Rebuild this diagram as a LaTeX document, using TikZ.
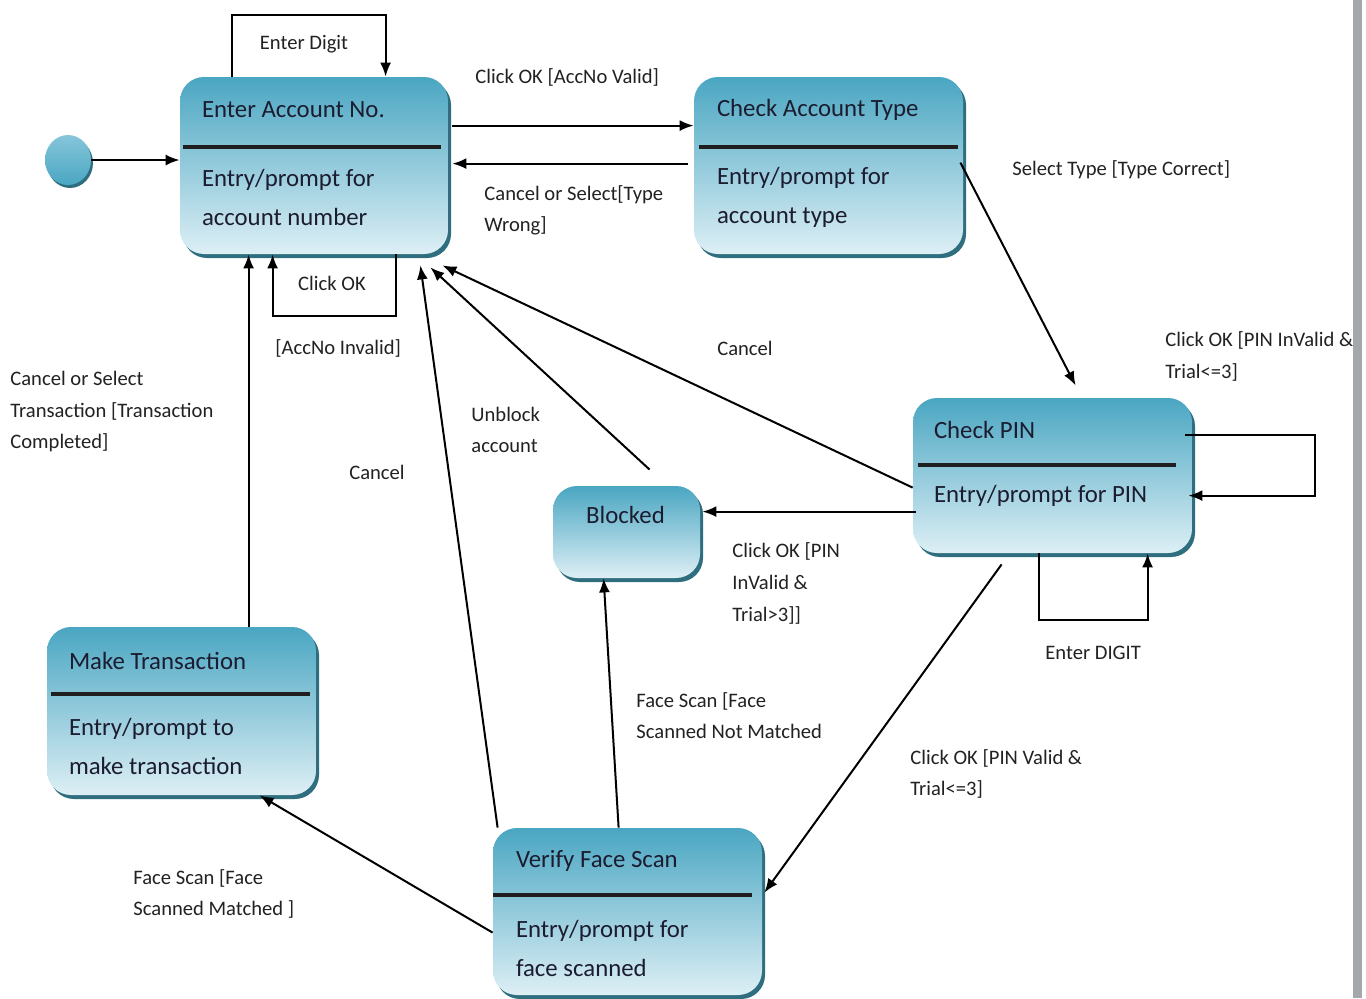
\documentclass[tikz,border=0pt]{standalone}
\usepackage{fontspec}
\setmainfont{Carlito}
\usetikzlibrary{arrows.meta,shapes.geometric,shadows,calc}
\definecolor{boxtop}{HTML}{4AA6C2}
\definecolor{boxbot}{HTML}{DDEFF5}
\definecolor{boxshadow}{HTML}{2F6E7E}
\definecolor{initlight}{HTML}{86C6DA}
\definecolor{boxtext}{HTML}{1C1C30}
\definecolor{labeltext}{HTML}{222222}
\definecolor{barcol}{HTML}{A4A7AB}
\begin{document}
\begin{tikzpicture}[x=0.5pt,y=-0.5pt,
  statebox/.style={rectangle, rounded corners=12pt, top color=boxtop, bottom color=boxbot,
    draw=none, inner sep=0pt,
    drop shadow={shadow xshift=1.5pt,shadow yshift=-2pt,fill=boxshadow,opacity=1}},
  initstate/.style={ellipse, inner sep=0pt, top color=initlight, bottom color=boxtop,
    draw=none, drop shadow={shadow xshift=1pt,shadow yshift=-1.5pt,fill=boxshadow,opacity=1}},
  boxtitle/.style={anchor=west, inner sep=0pt, font=\fontsize{12.4}{19.5}\selectfont, text=boxtext},
  boxbody/.style={anchor=west, align=left, inner sep=0pt, font=\fontsize{12.4}{19.5}\selectfont, text=boxtext},
  lbl/.style={inner sep=0pt, align=left, font=\fontsize{10.3}{15.8}\selectfont, text=labeltext},
  lblw/.style={lbl, anchor=west},
  conn/.style={line width=1pt, draw=black, -{Latex[length=7pt,width=5.5pt]}},
  divider/.style={line width=2pt, draw=black!88}
]
\useasboundingbox (0,0) rectangle (1366,998);
\fill[white] (0,0) rectangle (1366,998);

% states
\node[initstate, minimum width=23pt, minimum height=25pt] (init) at (68,160) {};

\node[statebox, minimum width=134pt, minimum height=88.5pt] (acc) at (314,165.5) {};
\node[boxtitle] (accT) at ($(acc.north west)+(22,33)$) {Enter Account No.};
\draw[divider] ($(acc.north west)+(3,70)$) -- ($(acc.north east)+(-7,70)$);
\node[boxbody] (accB) at ($(acc.north west)+(22,120.5)$) {Entry/prompt for\\account number};

\node[statebox, minimum width=134.5pt, minimum height=88.5pt] (typ) at (828.5,165.5) {};
\node[boxtitle] (typT) at ($(typ.north west)+(23,33)$) {Check Account Type};
\draw[divider] ($(typ.north west)+(5,70)$) -- ($(typ.north east)+(-5,70)$);
\node[boxbody] (typB) at ($(typ.north west)+(23,120.5)$) {Entry/prompt for\\account type};

\node[statebox, minimum width=139.5pt, minimum height=77.5pt] (pin) at (1052.5,475.5) {};
\node[boxtitle] (pinT) at ($(pin.north west)+(21,32)$) {Check PIN};
\draw[divider] ($(pin.north west)+(5,67)$) -- ($(pin.north east)+(-16,67)$);
\node[boxbody] (pinB) at ($(pin.north west)+(21,98)$) {Entry/prompt for PIN};

\node[statebox, minimum width=73.5pt, minimum height=46pt] (blk) at (626.5,532) {};
\node[boxtitle, anchor=center] (blkT) at ($(blk.north)+(-1,29)$) {Blocked};

\node[statebox, minimum width=134.5pt, minimum height=84pt] (mt) at (181.5,711) {};
\node[boxtitle] (mtT) at ($(mt.north west)+(22,34)$) {Make Transaction};
\draw[divider] ($(mt.north west)+(4,67)$) -- ($(mt.north east)+(-6,67)$);
\node[boxbody] (mtB) at ($(mt.north west)+(22,119.5)$) {Entry/prompt to\\make transaction};

\node[statebox, minimum width=134.5pt, minimum height=83.5pt] (vfs) at (627.5,911.5) {};
\node[boxtitle] (vfsT) at ($(vfs.north west)+(23,33)$) {Verify Face Scan};
\draw[divider] ($(vfs.north west)+(0,67)$) -- ($(vfs.north east)+(-10,67)$);
\node[boxbody] (vfsB) at ($(vfs.north west)+(23,121)$) {Entry/prompt for\\face scanned};

% connectors
\draw[conn] (init.east) -- (init.east -| acc.west);
\draw[conn] ($(acc.north west)+(52,0)$) -- ++(0,-62) -| ($(acc.north west)+(206,0)$);
\draw[conn] ($(acc.north east)+(4,49)$) -- ($(typ.north west)+(0,49)$);
\draw[conn] ($(typ.north west)+(-6,87)$) -- ($(acc.north east)+(4,87)$);
\draw[conn] ($(acc.south west)+(216,0)$) -- ++(0,62) -| ($(acc.south west)+(93,0)$);
\draw[conn] ($(typ.north east)+(-3,86)$) -- ($(pin.north west)+(163,-12)$);
\draw[conn] ($(pin.north west)+(0,90)$) -- ($(acc.south east)+(-6,11)$);
\draw[conn] ($(blk.north west)+(97,-16)$) -- ($(acc.south east)+(-18,13)$);
\draw[conn] ($(vfs.north west)+(5,0)$) -- ($(acc.south east)+(-28,11)$);
\draw[conn] ($(mt.north west)+(202,0)$) -- ($(acc.south west)+(69,0)$);
\draw[conn] ($(pin.north east)+(-7,37)$) -- ++(130,0) |- ($(pin.north east)+(-4,98)$);
\draw[conn] ($(pin.north west)+(3,114)$) -- ($(blk.north east)+(2,26)$);
\draw[conn] ($(pin.south west)+(126,0)$) -- ++(0,67) -| ($(pin.south west)+(235,0)$);
\draw[conn] ($(pin.south west)+(89,11)$) -- ($(vfs.north east)+(2,65)$);
\draw[conn] ($(vfs.north west)+(126,0)$) -- ($(blk.south west)+(51,0)$);
\draw[conn] ($(vfs.north west)+(0,105)$) -- ($(mt.south west)+(213,0)$);

% labels
\node[lbl] (l1) at (304,44) {Enter Digit};
\node[lblw] (l2) at (475,77) {Click OK [AccNo Valid]};
\node[lblw] (l3) at (484,210.5) {Cancel or Select[Type\\Wrong]};
\node[lbl] (l4) at (332,283) {Click OK};
\node[lblw] (l5) at (275,348) {[AccNo Invalid]};
\node[lblw] (l6) at (1012,170) {Select Type [Type Correct]};
\node[lbl] (l7) at (745,348) {Cancel};
\node[lblw] (l8) at (1165,356.5) {Click OK [PIN InValid \&\\Trial<=3]};
\node[lblw] (l9) at (10,411.5) {Cancel or Select\\Transaction [Transaction\\Completed]};
\node[lblw] (l10) at (471,430) {Unblock\\account};
\node[lbl] (l11) at (377,472) {Cancel};
\node[lblw] (l12) at (732,583.5) {Click OK [PIN\\InValid \&\\Trial>3]]};
\node[lblw] (l13) at (1045,653) {Enter DIGIT};
\node[lblw] (l14) at (636,715.5) {Face Scan [Face\\Scanned Not Matched};
\node[lblw] (l15) at (910,774) {Click OK [PIN Valid \&\\Trial<=3]};
\node[lblw] (l16) at (133,894) {Face Scan [Face\\Scanned Matched ]};

% right-hand grey bar
\fill[barcol] (1353,0) rectangle (1362,998);
\end{tikzpicture}
\end{document}
